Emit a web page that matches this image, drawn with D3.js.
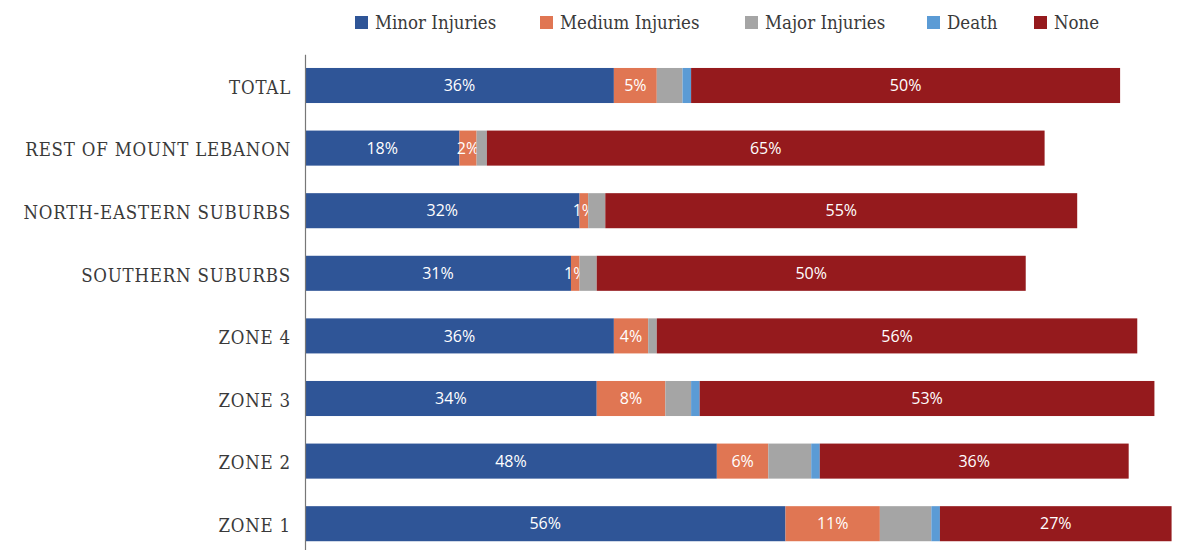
<!DOCTYPE html>
<html>
<head>
<meta charset="utf-8">
<script src="https://cdn.jsdelivr.net/npm/d3@7"></script>
<style>
  body { margin: 0; background: #fff; }
  .cat { font-family: 'DejaVu Serif Condensed', 'DejaVu Serif', serif; font-size: 18.5px; fill: #3a3a3a; letter-spacing: 0.8px; }
  .leg { font-family: 'DejaVu Serif Condensed', 'DejaVu Serif', serif; font-size: 18.5px; fill: #3a3a3a; }
  .val { font-family: 'Open Sans', sans-serif; font-size: 16px; fill: #fff; }
</style>
</head>
<body>
<svg width="1181" height="550"></svg>
<script>
// Categories, top to bottom
const categories = ['TOTAL', 'REST OF MOUNT LEBANON', 'NORTH-EASTERN SUBURBS', 'SOUTHERN SUBURBS',
                    'ZONE 4', 'ZONE 3', 'ZONE 2', 'ZONE 1'];
const seriesNames = ['Minor Injuries', 'Medium Injuries', 'Major Injuries', 'Death', 'None'];
const colors = ['#2F5597', '#E07653', '#A5A5A5', '#5B9BD5', '#951A1D'];

// Values in percent, one array per series (same order as categories)
const minor  = [36, 18, 32, 31, 36, 34, 48, 56];
const medium = [5, 2, 1, 1, 4, 8, 6, 11];
const major  = [3, 1.2, 2, 2, 1, 3, 5, 6];
const death  = [1, 0, 0, 0, 0, 1, 1, 1];
const none   = [50, 65, 55, 50, 56, 53, 36, 27];
// Which series get a value label
const labelled = [true, true, false, false, true];

const svg = d3.select('svg');

const rows = categories.map((c, i) => ({
    cat: c,
    vals: [minor[i], medium[i], major[i], death[i], none[i]]
}));

const xScale = d3.scaleLinear().domain([0, 100]).range([305, 1163]);
const yScale = d3.scaleBand()
    .domain(categories)
    .range([54.2, 555])
    .paddingInner(0.44)
    .paddingOuter(0.22);

// Bars
rows.forEach(r => {
    let acc = 0;
    r.vals.forEach((v, k) => {
        const x0 = xScale(acc);
        const x1 = xScale(acc + v);
        acc += v;
        if (v <= 0) return;
        svg.append('rect')
            .attr('x', x0)
            .attr('y', yScale(r.cat))
            .attr('width', x1 - x0)
            .attr('height', yScale.bandwidth())
            .attr('fill', colors[k]);
        if (labelled[k]) {
            svg.append('text')
                .attr('class', 'val')
                .attr('x', (x0 + x1) / 2)
                .attr('y', yScale(r.cat) + yScale.bandwidth() / 2)
                .attr('dy', '0.36em')
                .attr('text-anchor', 'middle')
                .text(Math.round(v) + '%');
        }
    });
});

// Category axis
const yAxis = d3.axisLeft(yScale).tickSize(0).tickPadding(14);
const yAxisGroup = svg.append('g')
    .attr('transform', 'translate(305,0)')
    .call(yAxis);
yAxisGroup.select('.domain').attr('stroke', '#777').attr('stroke-width', 1.2);
yAxisGroup.selectAll('.tick text')
    .attr('class', 'cat')
    .attr('font-family', null)
    .attr('font-size', null)
    .attr('dy', '0.45em');

// Legend
const legendX = [355, 540, 745, 927, 1034];
const legend = svg.append('g');
seriesNames.forEach((name, k) => {
    legend.append('rect')
        .attr('x', legendX[k])
        .attr('y', 16)
        .attr('width', 13)
        .attr('height', 13)
        .attr('fill', colors[k]);
    legend.append('text')
        .attr('class', 'leg')
        .attr('x', legendX[k] + 20)
        .attr('y', 22.5)
        .attr('dy', '0.35em')
        .text(name);
});
</script>
</body>
</html>
